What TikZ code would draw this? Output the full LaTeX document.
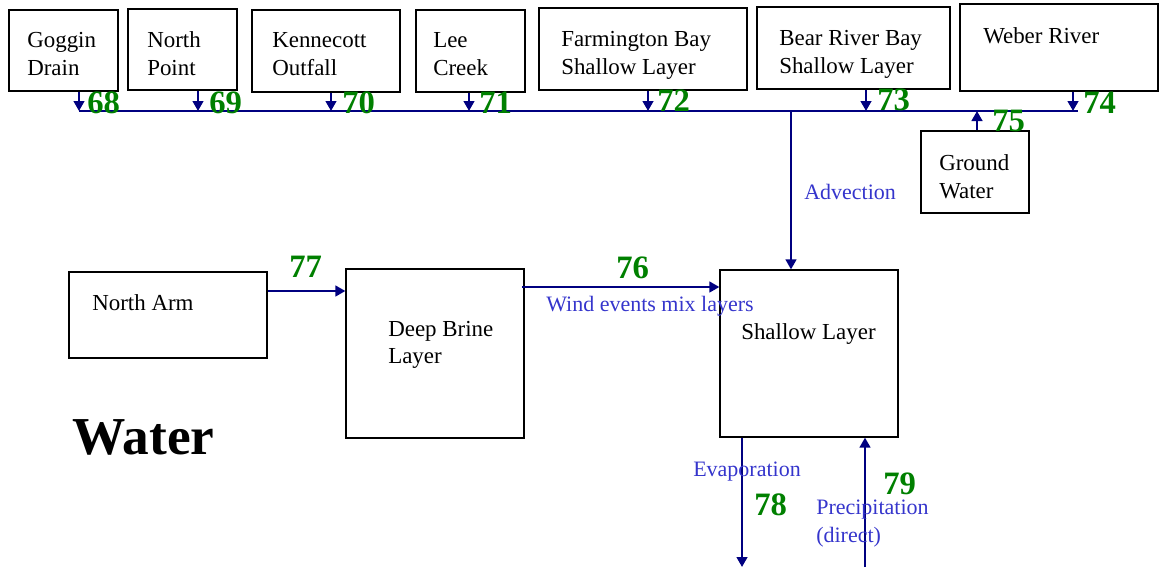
\documentclass[tikz,border=0pt]{standalone}
\usepackage{fontspec}
\setmainfont{Liberation Serif}
\usetikzlibrary{arrows.meta,fit}
\definecolor{navy}{HTML}{000080}
\definecolor{numgreen}{HTML}{008000}
\definecolor{lblblue}{HTML}{3535CC}
\begin{document}
\begin{tikzpicture}[x=0.75pt,y=-0.75pt,
  box/.style={draw=black, line width=0.9pt, inner sep=0pt},
  txt/.style={anchor=base west, inner sep=0pt, font=\fontsize{17.2}{20}\selectfont},
  num/.style={anchor=base west, inner sep=0pt, text=numgreen, font=\fontsize{24.5}{27}\selectfont\bfseries},
  lbl/.style={anchor=base west, inner sep=0pt, text=lblblue, font=\fontsize{16.5}{20}\selectfont},
  title/.style={anchor=base west, inner sep=0pt, font=\fontsize{40}{44}\selectfont\bfseries},
  flow/.style={draw=navy, line width=1.7pt, -{Triangle[length=7.5pt,width=8pt]}},
  bus/.style={draw=navy, line width=1.7pt}]
\useasboundingbox (0,0) rectangle (1163,571);

% boxes
\node[box, fit={(9,10)(118,91)}] (gog) {};
\node[box, fit={(128,9)(237,90)}] (npt) {};
\node[box, fit={(252,10)(400,92)}] (ken) {};
\node[box, fit={(416,10)(525,92)}] (lee) {};
\node[box, fit={(539,8)(747,90)}] (farm) {};
\node[box, fit={(757,7)(950,89)}] (bear) {};
\node[box, fit={(960,4)(1158,91)}] (weber) {};
\node[box, fit={(921,131)(1029,213)}] (ground) {};
\node[box, fit={(69,272)(267,358)}] (narm) {};
\node[box, fit={(346,269)(524,438)}] (deep) {};
\node[box, fit={(720,270)(898,437)}] (shal) {};

% box texts
\node[txt] (t1a) at (27,47) {Goggin};
\node[txt] (t1b) at (27,75) {Drain};
\node[txt] (t2a) at (147,47) {North};
\node[txt] (t2b) at (147,75) {Point};
\node[txt] (t3a) at (272,47) {Kennecott};
\node[txt] (t3b) at (272,75) {Outfall};
\node[txt] (t4a) at (433,47) {Lee};
\node[txt] (t4b) at (433,75) {Creek};
\node[txt] (t5a) at (561,46) {Farmington Bay};
\node[txt] (t5b) at (561,74) {Shallow Layer};
\node[txt] (t6a) at (779,45) {Bear River Bay};
\node[txt] (t6b) at (779,73) {Shallow Layer};
\node[txt] (t7a) at (983,43) {Weber River};
\node[txt] (t8a) at (939,170) {Ground};
\node[txt] (t8b) at (939,198) {Water};
\node[txt] (t9a) at (92,310) {North Arm};
\node[txt] (t10a) at (388,336) {Deep Brine};
\node[txt] (t10b) at (388,363) {Layer};
\node[txt] (t11a) at (741,339) {Shallow Layer};
\node[title] (ttl) at (72,454) {Water};

% bus coordinates
\coordinate (b68) at (79,111);
\coordinate (b69) at (198,111);
\coordinate (b70) at (331,111);
\coordinate (b71) at (469,111);
\coordinate (b72) at (648,111);
\coordinate (b73) at (866,111);
\coordinate (b75) at (977,111);
\coordinate (b74) at (1073,111);
\coordinate (bend) at (1078,111);
\coordinate (adv) at (791,111);

\draw[bus] (b68) -- (bend);
\draw[flow] (gog.south -| b68) -- (b68);
\draw[flow] (npt.south -| b69) -- (b69);
\draw[flow] (ken.south -| b70) -- (b70);
\draw[flow] (lee.south -| b71) -- (b71);
\draw[flow] (farm.south -| b72) -- (b72);
\draw[flow] (bear.south -| b73) -- (b73);
\draw[flow] (weber.south -| b74) -- (b74);
\draw[flow] (ground.north -| b75) -- (b75);
\draw[flow] (adv) -- (adv |- shal.north);

\node[num] (n68) at (87,113) {68};
\node[num] (n69) at (209,113) {69};
\node[num] (n70) at (342,113) {70};
\node[num] (n71) at (479,113) {71};
\node[num] (n72) at (657,111) {72};
\node[num] (n73) at (877,110) {73};
\node[num] (n74) at (1083,113) {74};
\node[num] (n75) at (992,131) {75};
\node[lbl] (ladv) at (804,199) {Advection};

% middle flows
\coordinate (y77) at (0,291);
\coordinate (y76) at (0,287);
\draw[flow] (narm.east |- y77) -- (deep.west |- y77);
\draw[flow] ([xshift=-2pt]deep.east |- y76) -- (shal.west |- y76);
\node[num] (n77) at (289,277) {77};
\node[num] (n76) at (616,278) {76};
\node[lbl] (lwind) at (546,311) {Wind events mix layers};

% bottom flows
\coordinate (evend) at (742,567);
\coordinate (prst) at (865,567);
\draw[flow] (shal.south -| evend) -- (evend);
\draw[flow] (prst) -- (prst |- shal.south);
\node[lbl] (levap) at (693,476) {Evaporation};
\node[num] (n78) at (754,515) {78};
\node[num] (n79) at (883,494) {79};
\node[lbl] (lprec) at (816,514) {Precipitation};
\node[lbl] (ldir) at (816,542) {(direct)};
\end{tikzpicture}
\end{document}
